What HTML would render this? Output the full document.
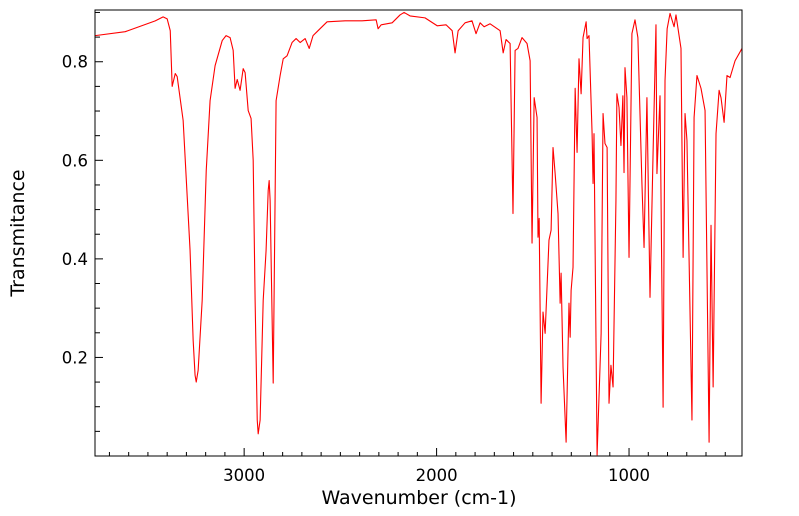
<!DOCTYPE html>
<html><head><meta charset="utf-8"><style>
body{margin:0;background:#fff;}
svg{display:block;font-family:"DejaVu Sans","Liberation Sans",sans-serif;}
</style></head><body>
<svg id="chart" width="799" height="516" viewBox="0 0 799 516">
<g id="axes"></g>
<path id="spec" fill="none" stroke="#ff0000" stroke-width="1.1" stroke-linejoin="round"/>
<rect x="95" y="10" width="647" height="446" fill="none" stroke="#000" stroke-width="1"/>
<text x="419" y="504" font-size="19" text-anchor="middle">Wavenumber (cm-1)</text>
<text x="24" y="233" font-size="19" text-anchor="middle" transform="rotate(-90 24 233)">Transmitance</text>
</svg>
<script>
const wavenumbers=[3774,3618,3462,3421,3400,3384,3374,3358,3348,3317,3281,3265,3255,3249,3239,3218,3197,3177,3151,3114,3094,3073,3057,3047,3036,3021,3005,2995,2979,2964,2953,2943,2932,2927,2917,2901,2886,2875,2870,2865,2849,2834,2813,2797,2777,2751,2730,2709,2683,2662,2642,2616,2569,2475,2387,2314,2304,2288,2231,2190,2169,2138,2060,1997,1951,1919,1904,1888,1852,1816,1795,1774,1753,1722,1670,1654,1639,1618,1603,1592,1577,1556,1530,1514,1504,1493,1478,1473,1467,1457,1447,1436,1416,1405,1395,1384,1369,1358,1353,1343,1327,1312,1306,1301,1291,1280,1270,1260,1249,1239,1223,1218,1208,1192,1187,1182,1166,1145,1135,1125,1114,1104,1094,1083,1068,1063,1052,1042,1032,1026,1021,1011,1000,985,969,954,933,922,907,891,875,860,855,839,823,813,802,787,766,756,730,719,709,699,673,662,647,626,605,584,574,563,548,532,522,506,491,475,449,413];
const transmittance=[0.853,0.861,0.883,0.891,0.887,0.863,0.750,0.776,0.770,0.681,0.417,0.235,0.164,0.150,0.174,0.316,0.579,0.721,0.792,0.843,0.853,0.849,0.823,0.746,0.764,0.742,0.786,0.778,0.701,0.685,0.600,0.316,0.073,0.045,0.073,0.316,0.417,0.539,0.559,0.519,0.148,0.721,0.772,0.806,0.812,0.839,0.847,0.839,0.847,0.827,0.853,0.863,0.881,0.883,0.883,0.885,0.867,0.875,0.879,0.895,0.900,0.893,0.889,0.873,0.875,0.863,0.818,0.863,0.879,0.883,0.857,0.879,0.871,0.877,0.863,0.818,0.845,0.837,0.492,0.823,0.827,0.849,0.837,0.802,0.432,0.727,0.687,0.444,0.482,0.107,0.292,0.249,0.438,0.458,0.626,0.573,0.492,0.310,0.371,0.180,0.028,0.310,0.241,0.336,0.383,0.746,0.616,0.806,0.735,0.849,0.881,0.847,0.853,0.654,0.553,0.654,0.002,0.249,0.695,0.634,0.626,0.107,0.184,0.140,0.519,0.735,0.707,0.630,0.731,0.575,0.788,0.727,0.403,0.857,0.885,0.849,0.553,0.423,0.727,0.322,0.616,0.875,0.573,0.731,0.099,0.762,0.867,0.898,0.871,0.895,0.827,0.403,0.695,0.640,0.073,0.687,0.772,0.746,0.701,0.028,0.468,0.140,0.654,0.742,0.727,0.677,0.772,0.768,0.802,0.827];
const xTickLabels=[3000,2000,1000];
const yTickLabels=[0.2,0.4,0.6,0.8];
const X0=95,X1=742,Y0=10,Y1=456,WMAX=3775,WMIN=413,TMAX=0.905,TMIN=0;
function xs(w){return X0+(WMAX-w)/(WMAX-WMIN)*(X1-X0);}
function ys(t){return Y1-(t-TMIN)/(TMAX-TMIN)*(Y1-Y0);}
const NS='http://www.w3.org/2000/svg';
const axes=document.getElementById('axes');
function ln(x1,y1,x2,y2,name){const l=document.createElementNS(NS,'line');
l.setAttribute('x1',x1);l.setAttribute('y1',y1);l.setAttribute('x2',x2);l.setAttribute('y2',y2);
l.setAttribute('stroke','#000');l.setAttribute('stroke-width','1');


axes.appendChild(l);}
function tx(x,y,s,anchor,name){const t=document.createElementNS(NS,'text');
t.setAttribute('x',x);t.setAttribute('y',y);t.setAttribute('font-size','16.5');t.setAttribute('text-anchor',anchor);t.textContent=s;


axes.appendChild(t);}
for(let w=500;w<=3700;w+=100){const x=xs(w);const major=w%1000===0;ln(x,Y1,x,Y1-(major?8:4),major?'x-major-tick':'x-minor-tick');}
xTickLabels.forEach(w=>tx(xs(w),481,String(w),'middle','x-tick-label'));
for(let k=1;k<=18;k++){const t=k*0.05;const y=ys(t);const major=k%4===0;ln(X0,y,X0+(major?8:5),y,major?'y-major-tick':'y-minor-tick');}
yTickLabels.forEach(t=>tx(88,ys(t)+6,t.toFixed(1),'end','y-tick-label'));
let d='';
wavenumbers.forEach((w,i)=>{d+=(i?'L':'M')+xs(w).toFixed(2)+','+ys(transmittance[i]).toFixed(2);});
document.getElementById('spec').setAttribute('d',d);
</script>
</body></html>
